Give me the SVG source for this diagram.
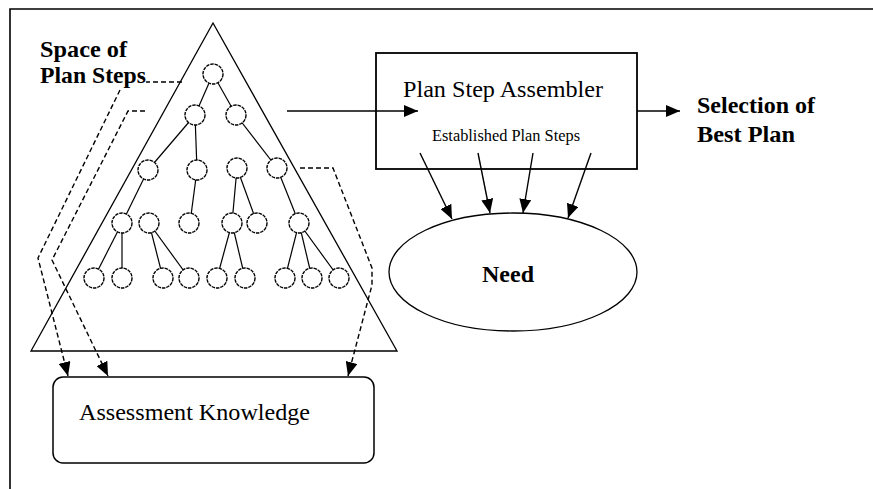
<svg xmlns="http://www.w3.org/2000/svg" width="873" height="489" viewBox="0 0 873 489">
  <style>
    .serif { font-family: "Liberation Serif", "Times New Roman", serif; fill: #000; }
    .bold { font-weight: bold; }
    .solid { fill: none; stroke: #000; stroke-width: 1.4; }
    .dash { fill: none; stroke: #000; stroke-width: 1.4; stroke-dasharray: 5 3; }
    .edge { stroke: #000; stroke-width: 1.2; }
    .step { fill: #fff; stroke: #000; stroke-width: 1.4; stroke-dasharray: 3.5 0.9; }
  </style>
  <defs>
    <marker id="head" viewBox="0 0 14 12" refX="14" refY="6" markerWidth="14" markerHeight="12" markerUnits="userSpaceOnUse" orient="auto">
      <path d="M0,0 L14,6 L0,12 z" fill="#000"/>
    </marker>
  </defs>

  <rect width="873" height="489" fill="#fff"/>
  <!-- outer frame, open to the right and bottom -->
  <path d="M10,489 V9 H873" fill="none" stroke="#000" stroke-width="1.6"/>

  <!-- space of plan steps: triangle with search tree -->
  <g id="plan-space">
    <polygon points="213,23 31,351 397,351" fill="none" stroke="#000" stroke-width="1.3"/>
    <g id="tree-edges">
      <line class="edge" x1="213" y1="74" x2="195" y2="115"/>
      <line class="edge" x1="213" y1="74" x2="236" y2="115"/>
      <line class="edge" x1="195" y1="115" x2="148" y2="170"/>
      <line class="edge" x1="195" y1="115" x2="197" y2="170"/>
      <line class="edge" x1="236" y1="115" x2="277" y2="168"/>
      <line class="edge" x1="148" y1="170" x2="122" y2="223"/>
      <line class="edge" x1="197" y1="170" x2="190" y2="223"/>
      <line class="edge" x1="237" y1="168" x2="232" y2="223"/>
      <line class="edge" x1="237" y1="168" x2="257" y2="223"/>
      <line class="edge" x1="277" y1="168" x2="299" y2="223"/>
      <line class="edge" x1="122" y1="223" x2="94" y2="278"/>
      <line class="edge" x1="122" y1="223" x2="122" y2="278"/>
      <line class="edge" x1="149" y1="223" x2="163" y2="278"/>
      <line class="edge" x1="149" y1="223" x2="189" y2="278"/>
      <line class="edge" x1="232" y1="223" x2="217" y2="278"/>
      <line class="edge" x1="232" y1="223" x2="245" y2="278"/>
      <line class="edge" x1="299" y1="223" x2="285" y2="278"/>
      <line class="edge" x1="299" y1="223" x2="312" y2="278"/>
      <line class="edge" x1="299" y1="223" x2="339" y2="278"/>
    </g>
    <g id="tree-nodes">
      <circle class="step" cx="213" cy="74" r="10"/>
      <circle class="step" cx="195" cy="115" r="10"/>
      <circle class="step" cx="236" cy="115" r="10"/>
      <circle class="step" cx="148" cy="170" r="10"/>
      <circle class="step" cx="197" cy="170" r="10"/>
      <circle class="step" cx="237" cy="168" r="10"/>
      <circle class="step" cx="277" cy="168" r="10"/>
      <circle class="step" cx="122" cy="223" r="10"/>
      <circle class="step" cx="149" cy="223" r="10"/>
      <circle class="step" cx="189" cy="223" r="10"/>
      <circle class="step" cx="232" cy="223" r="10"/>
      <circle class="step" cx="257" cy="223" r="10"/>
      <circle class="step" cx="299" cy="223" r="10"/>
      <circle class="step" cx="94" cy="278" r="10"/>
      <circle class="step" cx="122" cy="278" r="10"/>
      <circle class="step" cx="163" cy="278" r="10"/>
      <circle class="step" cx="189" cy="278" r="10"/>
      <circle class="step" cx="217" cy="278" r="10"/>
      <circle class="step" cx="245" cy="278" r="10"/>
      <circle class="step" cx="285" cy="278" r="10"/>
      <circle class="step" cx="312" cy="278" r="10"/>
      <circle class="step" cx="339" cy="278" r="10"/>
    </g>
  </g>

  <g id="space-label">
    <text class="serif bold" x="40" y="57" font-size="24" textLength="87" lengthAdjust="spacingAndGlyphs">Space of</text>
    <text class="serif bold" x="40" y="83" font-size="24" textLength="106" lengthAdjust="spacingAndGlyphs">Plan Steps</text>
  </g>

  <g id="assembler">
    <rect x="376" y="53" width="261" height="116" fill="none" stroke="#000" stroke-width="1.8"/>
    <text class="serif" x="403" y="97" font-size="23" textLength="200" lengthAdjust="spacingAndGlyphs">Plan Step Assembler</text>
    <text class="serif" x="432" y="141" font-size="16" textLength="148" lengthAdjust="spacingAndGlyphs">Established Plan Steps</text>
  </g>

  <g id="need">
    <ellipse cx="513" cy="272" rx="124" ry="59" fill="none" stroke="#000" stroke-width="1.3"/>
    <text class="serif bold" x="508" y="282" font-size="23" text-anchor="middle" textLength="52" lengthAdjust="spacingAndGlyphs">Need</text>
  </g>

  <g id="selection">
    <text class="serif bold" x="697" y="113" font-size="24" textLength="118" lengthAdjust="spacingAndGlyphs">Selection of</text>
    <text class="serif bold" x="697" y="142" font-size="24" textLength="98" lengthAdjust="spacingAndGlyphs">Best Plan</text>
  </g>

  <g id="assessment">
    <rect x="53" y="377" width="321" height="86" rx="10" ry="10" fill="none" stroke="#000" stroke-width="1.5"/>
    <text class="serif" x="79" y="420" font-size="24" textLength="231" lengthAdjust="spacingAndGlyphs">Assessment Knowledge</text>
  </g>

  <g id="connectors">
    <!-- tree to assembler, assembler to selection -->
    <line class="solid" x1="287" y1="111" x2="418" y2="111" marker-end="url(#head)"/>
    <line class="solid" x1="637" y1="111" x2="680" y2="111" marker-end="url(#head)"/>
    <!-- established plan steps into need -->
    <line class="solid" x1="420" y1="153" x2="452" y2="219" marker-end="url(#head)"/>
    <line class="solid" x1="478" y1="153" x2="490" y2="213" marker-end="url(#head)"/>
    <line class="solid" x1="533" y1="153" x2="523" y2="213" marker-end="url(#head)"/>
    <line class="solid" x1="591" y1="153" x2="568" y2="218" marker-end="url(#head)"/>
    <!-- plan space to assessment knowledge -->
    <path class="dash" d="M182,82 H146 M120,90 L38,258 L68,376" marker-end="url(#head)"/>
    <path class="dash" d="M145,111 H128 L52,260 L108,376" marker-end="url(#head)"/>
    <path class="dash" d="M300,168 H333 L372,268 V285 L348,376" marker-end="url(#head)"/>
  </g>
</svg>
